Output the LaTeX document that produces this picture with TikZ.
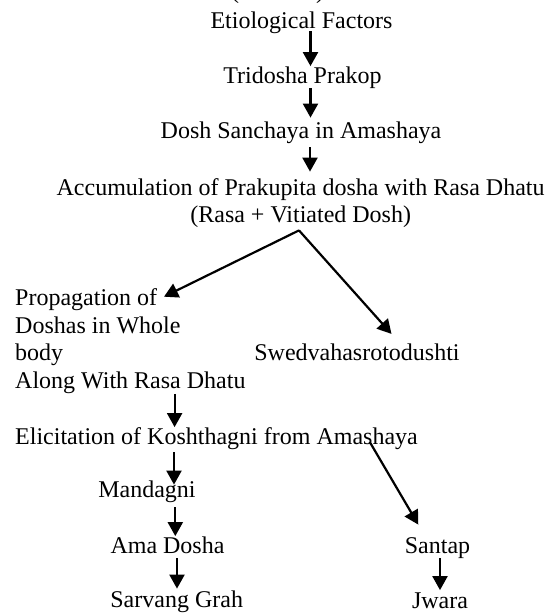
\documentclass[tikz,border=0pt]{standalone}
\usepackage{fontspec}
\setmainfont{Liberation Serif}
\usetikzlibrary{arrows.meta,calc}
\begin{document}
\begin{tikzpicture}[x=0.5pt,y=-0.5pt,
  font=\fontsize{12}{13.75}\selectfont,
  txt/.style={inner sep=0pt, anchor=base, text height=8.25pt, text depth=2.5pt},
  arr/.style={line width=1.1pt, -{Triangle[width=7.5pt,length=7pt]}}]
\useasboundingbox (0,0) rectangle (553,616);
\node[inner sep=0pt, anchor=base] (topcut) at (277.5,-2) {(\hspace{38.5pt})};
\node[txt] (etio) at (301.5,28) {Etiological Factors};
\node[txt] (trid) at (302.5,83) {Tridosha Prakop};
\node[txt] (dosh) at (301,138) {Dosh Sanchaya in Amashaya};
\node[txt] (accum) at (300.6,195) {Accumulation of Prakupita dosha with Rasa Dhatu};
\node[txt] (rasa) at (300.7,222) {(Rasa + Vitiated Dosh)};
\node[inner sep=0pt, anchor=north west, align=left] (prop) at (14.8,288.5)
  {Propagation of\\Doshas in Whole\\body\\Along With Rasa Dhatu};
\node[txt] (swed) at (357,360) {Swedvahasrotodushti};
\node[txt, anchor=base west] (elic) at (14.8,444) {Elicitation of Koshthagni from Amashaya};
\node[txt] (mand) at (147,497) {Mandagni};
\node[txt] (ama) at (167.5,553) {Ama Dosha};
\node[txt] (sarv) at (176.7,607) {Sarvang Grah};
\node[txt] (santap) at (437.5,553) {Santap};
\node[txt] (jwara) at (440,608) {Jwara};
\coordinate (branch) at ($(rasa.south)+(-1.7,3)$);

\draw[arr, shorten <=-1pt] (etio.south -| 310.5,0) -- (trid.north -| 310.5,0);
\draw[arr, shorten >=1.75pt] (trid.south -| 310.5,0) -- (dosh.north -| 310.5,0);
\draw[arr, shorten <=2pt, shorten >=3.25pt] (dosh.south -| 310,0) -- (accum.north -| 310,0);
\draw[arr] (branch) -- ($(prop.north west)+(149.2,8.2)$);
\draw[arr] (branch) -- ($(swed.north)+(34.5,-9.2)$);
\draw[arr] (prop.south -| 174.6,0) -- (elic.north -| 174.6,0);
\draw[arr, shorten <=1.5pt, shorten >=-2.25pt] (elic.south -| 174,0) -- (mand.north -| 174,0);
\draw[arr] ($(elic.base west)+(354.8,-2.3)$) -- ($(santap.north)+(-19.2,-11.5)$);
\draw[arr, shorten <=2.5pt] (mand.south -| 175.3,0) -- (ama.north -| 175.3,0);
\draw[arr, shorten >=0.75pt] (ama.south -| 177,0) -- (sarv.north -| 177,0);
\draw[arr, shorten >=0.5pt] (santap.south -| 440,0) -- (jwara.north -| 440,0);
\end{tikzpicture}
\end{document}
